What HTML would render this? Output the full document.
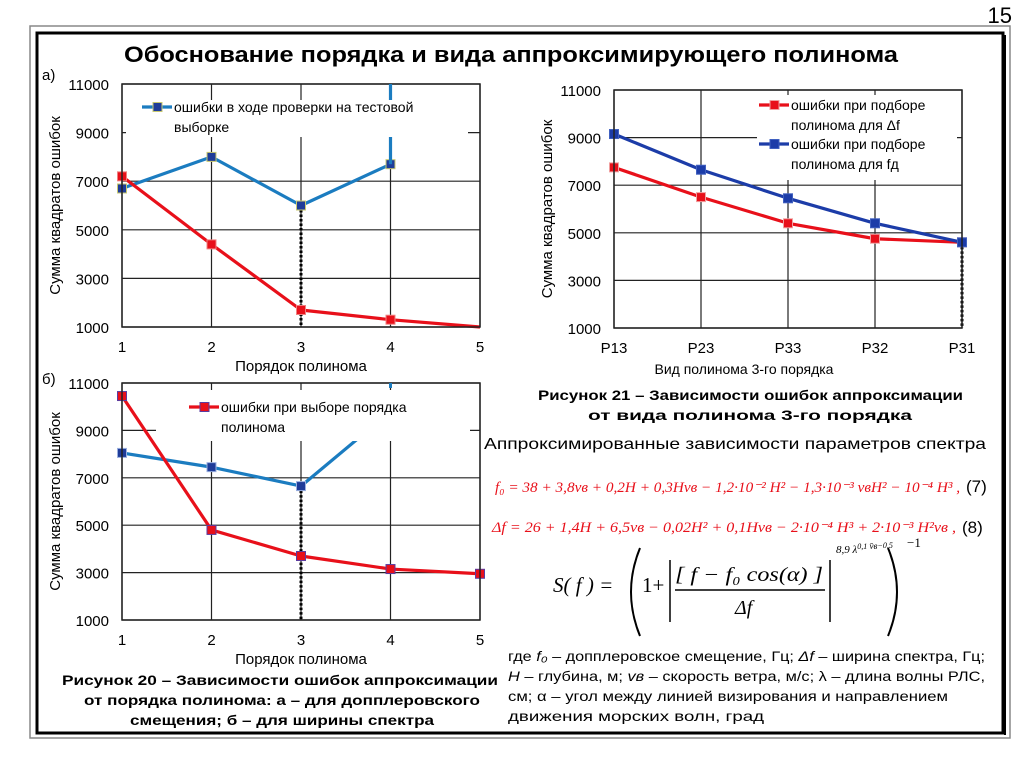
<!DOCTYPE html>
<html><head><meta charset="utf-8"><style>
html,body{margin:0;padding:0;background:#fff;}
svg{display:block;font-family:"Liberation Sans",sans-serif;}
.ser{font-family:"Liberation Serif",serif;}
</style></head><body>
<svg id="root" width="1024" height="767" viewBox="0 0 1024 767">
<rect x="30" y="26" width="980" height="712" fill="none" stroke="#888" stroke-width="1.5"/>
<rect x="37" y="33" width="966" height="700" fill="none" stroke="#000" stroke-width="3"/>
<line x1="1005" y1="35" x2="1005" y2="735" stroke="#000" stroke-width="2"/>
<text x="1012" y="23" font-size="22" text-anchor="end">15</text>
<text x="124" y="62" font-size="22" font-weight="bold" textLength="774" lengthAdjust="spacingAndGlyphs">Обоснование порядка и вида аппроксимирующего полинома</text>
<g id="charts"></g>

<text x="744" y="374" font-size="14" text-anchor="middle">Вид полинома 3-го порядка</text>
<text x="538" y="400" font-size="14" font-weight="bold" textLength="425" lengthAdjust="spacingAndGlyphs">Рисунок 21 – Зависимости ошибок аппроксимации</text>
<text x="588" y="420" font-size="14" font-weight="bold" textLength="324" lengthAdjust="spacingAndGlyphs">от вида полинома 3-го порядка</text>
<text x="484" y="449" font-size="16" textLength="502" lengthAdjust="spacingAndGlyphs">Аппроксимированные зависимости параметров спектра</text>

<text class="ser" x="495" y="492" font-size="15" font-style="italic" fill="#e8101a" textLength="465" lengthAdjust="spacingAndGlyphs">f₀ = 38 + 3,8vв + 0,2H + 0,3Hvв − 1,2·10⁻² H² − 1,3·10⁻³ vвH² − 10⁻⁴ H³ ,</text>
<text x="966" y="492" font-size="17">(7)</text>
<text class="ser" x="492" y="532" font-size="15" font-style="italic" fill="#e8101a" textLength="464" lengthAdjust="spacingAndGlyphs">Δf = 26 + 1,4H + 6,5vв − 0,02H² + 0,1Hvв − 2·10⁻⁴ H³ + 2·10⁻³ H²vв ,</text>
<text x="962" y="533" font-size="17">(8)</text>

<g class="ser">
<text class="ser" x="553" y="592" font-size="21" font-style="italic">S( f ) =</text>
<path d="M640,548 Q622,592 640,636" fill="none" stroke="#000" stroke-width="2"/>
<text class="ser" x="642" y="592" font-size="21">1+</text>
<line x1="670" y1="560" x2="670" y2="622" stroke="#000" stroke-width="1.5"/>
<text class="ser" x="675" y="581" font-size="20" font-style="italic" textLength="148" lengthAdjust="spacingAndGlyphs">[ f − f₀ cos(α) ]</text>
<line x1="675" y1="590" x2="825" y2="590" stroke="#000" stroke-width="1.5"/>
<text class="ser" x="735" y="614" font-size="20" font-style="italic">Δf</text>
<line x1="830" y1="560" x2="830" y2="622" stroke="#000" stroke-width="1.5"/>
<text class="ser" x="836" y="553" font-size="11" font-style="italic">8,9 λ<tspan font-size="8" dy="-4">0,1</tspan><tspan font-size="9" dy="0"> v̄в</tspan><tspan font-size="8" dy="-1">−0,5</tspan></text>
<path d="M888,548 Q906,592 888,636" fill="none" stroke="#000" stroke-width="2"/>
<text class="ser" x="907" y="547" font-size="13">−1</text>
</g>

<g font-size="14">
<text x="508" y="661" textLength="477" lengthAdjust="spacingAndGlyphs">где <tspan font-style="italic">f₀</tspan> – допплеровское смещение, Гц; <tspan font-style="italic">Δf</tspan> – ширина спектра, Гц;</text>
<text x="508" y="681" textLength="477" lengthAdjust="spacingAndGlyphs"><tspan font-style="italic">H</tspan> – глубина, м; <tspan font-style="italic">vв</tspan> – скорость ветра, м/с; λ – длина волны РЛС,</text>
<text x="508" y="701" textLength="440" lengthAdjust="spacingAndGlyphs">см; α – угол между линией визирования и направлением</text>
<text x="508" y="721" textLength="256" lengthAdjust="spacingAndGlyphs">движения морских волн, град</text>
</g>

<text x="62" y="685" font-size="14" font-weight="bold" textLength="436" lengthAdjust="spacingAndGlyphs">Рисунок 20 – Зависимости ошибок аппроксимации</text>
<text x="84" y="705" font-size="14" font-weight="bold" textLength="396" lengthAdjust="spacingAndGlyphs">от порядка полинома: а – для допплеровского</text>
<text x="130" y="725" font-size="14" font-weight="bold" textLength="304" lengthAdjust="spacingAndGlyphs">смещения; б – для ширины спектра</text>
<text x="42" y="80" font-size="15">а)</text>
<text x="42" y="384" font-size="15">б)</text>
</svg>
<script>
const yTicks = [1000, 3000, 5000, 7000, 9000, 11000];
const catsA = ['1', '2', '3', '4', '5'];
const catsC = ['P13', 'P23', 'P33', 'P32', 'P31'];
const redA = [7200, 4400, 1700, 1300, 1000];
const blueA = [6700, 8000, 6000, 7700];
const redB = [10450, 4800, 3700, 3150, 2950];
const blueB = [8050, 7450, 6650, 9800];
const redC = [7750, 6500, 5400, 4750, 4600];
const blueC = [9150, 7650, 6450, 5400, 4600];

const NS = 'http://www.w3.org/2000/svg';
const root = document.getElementById('charts');
function mk(tag, attrs, parent) {
  const e = document.createElementNS(NS, tag);
  for (const k in attrs) e.setAttribute(k, attrs[k]);
  (parent || root).appendChild(e);
  return e;
}
function chart(cfg) {
  const g = mk('g', {});
  
  
  const X = i => cfg.l + i * (cfg.r - cfg.l) / (cfg.cats.length - 1);
  const Y = v => cfg.b - (v - 1000) * (cfg.b - cfg.t) / 10000;
  const clipId = cfg.name + '-clip';
  const cp = mk('clipPath', {id: clipId}, g);
  mk('rect', {x: cfg.l - 6, y: cfg.t - 30, width: cfg.r - cfg.l + 12, height: cfg.b - cfg.t + 36}, cp);
  yTicks.forEach(v => {
    const ln = mk('line', {x1: cfg.l, x2: cfg.r, y1: Y(v), y2: Y(v), stroke: '#222', 'stroke-width': 1.2}, g);
    
    
    const t = mk('text', {x: cfg.l - 13, y: Y(v) + 6, 'font-size': 15, 'text-anchor': 'end'}, g);
    t.textContent = v;
    
    
  });
  cfg.cats.forEach((c, i) => {
    const ln = mk('line', {x1: X(i), x2: X(i), y1: cfg.t, y2: cfg.b, stroke: '#222', 'stroke-width': 1.2}, g);
    
    
    const t = mk('text', {x: X(i), y: cfg.b + 25, 'font-size': 15, 'text-anchor': 'middle'}, g);
    t.textContent = c;
    
    
  });
  const yt = mk('text', {x: 0, y: 0, 'font-size': 15, 'text-anchor': 'middle', transform: `translate(${cfg.l - 62},${(cfg.t + cfg.b) / 2}) rotate(-90)`}, g);
  yt.textContent = 'Сумма квадратов ошибок';
  
  
  if (cfg.xtitle) {
    const xt = mk('text', {x: (cfg.l + cfg.r) / 2, y: cfg.b + 44, 'font-size': 15, 'text-anchor': 'middle'}, g);
    xt.textContent = cfg.xtitle;
    
    
  }
  if (cfg.dashIdx !== undefined) {
    const dl = mk('line', {x1: X(cfg.dashIdx), x2: X(cfg.dashIdx), y1: Y(cfg.dashVal), y2: cfg.b, stroke: '#000', 'stroke-width': 3, 'stroke-dasharray': '2.5,2'}, g);
    
    
  }
  const sg = mk('g', {'clip-path': `url(#${clipId})`}, g);
  cfg.series.forEach(s => {
    const pts = s.vals.map((v, i) => X(i) + ',' + Y(v)).join(' ');
    const pl = mk('polyline', {points: pts, fill: 'none', stroke: s.color, 'stroke-width': 3.2, 'stroke-linejoin': 'round'}, sg);
    
    
    s.vals.forEach((v, i) => {
      if (s.skipLast && i === s.vals.length - 1) return;
      const m = mk('rect', {x: X(i) - 4.5, y: Y(v) - 4.5, width: 9, height: 9, fill: s.mfill, stroke: s.mstroke, 'stroke-width': 1}, sg);
      
      
    });
  });
  const bx = mk('rect', Object.assign({fill: '#fff'}, cfg.legendBox), g);
  
  
  mk('rect', {x: cfg.l, y: cfg.t, width: cfg.r - cfg.l, height: cfg.b - cfg.t, fill: 'none', stroke: '#222', 'stroke-width': 1.5}, g);
  cfg.legend.forEach(L => {
    const lg = mk('g', {}, g);
    
    
    mk('line', {x1: L.x, x2: L.x + 30, y1: L.y - 5, y2: L.y - 5, stroke: L.color, 'stroke-width': 3.2}, lg);
    mk('rect', {x: L.x + 11, y: L.y - 9.5, width: 9, height: 9, fill: L.mfill, stroke: L.mstroke}, lg);
    L.lines.forEach((tx, k) => {
      const t = mk('text', {x: L.x + 32, y: L.y + k * 20, 'font-size': 14}, lg);
      t.textContent = tx;
    });
  });
  return {X, Y, g};
}
const a = chart({name: 'chart-a', l: 122, r: 480, t: 84, b: 327, cats: catsA, xtitle: 'Порядок полинома', dashIdx: 2, dashVal: blueA[2],
  series: [
    {name: 'blue-a', vals: blueA, color: '#1b7cc0', mfill: '#1f3c99', mstroke: '#c8c870'},
    {name: 'red-a', vals: redA, color: '#e8101a', mfill: '#e8101a', mstroke: '#f08080', skipLast: true}
  ],
  legendBox: {x: 126, y: 100, width: 342, height: 37},
  legend: [{x: 142, y: 112, color: '#1b7cc0', mfill: '#1f3c99', mstroke: '#c8c870', lines: ['ошибки в ходе проверки на тестовой', 'выборке']}]
});
mk('line', {x1: a.X(3), x2: a.X(3), y1: 84, y2: 100, stroke: '#1b7cc0', 'stroke-width': 3.2});
mk('line', {x1: a.X(3), x2: a.X(3), y1: 137, y2: a.Y(blueA[3]), stroke: '#1b7cc0', 'stroke-width': 3.2});
const b = chart({name: 'chart-b', l: 122, r: 480, t: 383, b: 620, cats: catsA, xtitle: 'Порядок полинома', dashIdx: 2, dashVal: blueB[2],
  series: [
    {name: 'blue-b', vals: blueB, color: '#1b7cc0', mfill: '#1f3c99', mstroke: '#9ab0e0', skipLast: true},
    {name: 'red-b', vals: redB, color: '#e8101a', mfill: '#e8101a', mstroke: '#5a3ca0'}
  ],
  legendBox: {x: 156, y: 390, width: 314, height: 51},
  legend: [{x: 189, y: 412, color: '#e8101a', mfill: '#e8101a', mstroke: '#5a3ca0', lines: ['ошибки при выборе порядка', 'полинома']}]
});
mk('line', {x1: b.X(3), x2: b.X(3), y1: 383, y2: 388, stroke: '#1b7cc0', 'stroke-width': 3});
chart({name: 'chart-c', l: 614, r: 962, t: 90, b: 328, cats: catsC, dashIdx: 4, dashVal: blueC[4],
  series: [
    {name: 'red-c', vals: redC, color: '#e8101a', mfill: '#e8101a', mstroke: '#f0a0a0'},
    {name: 'blue-c', vals: blueC, color: '#1c3ca8', mfill: '#1c3ca8', mstroke: '#4060c0'}
  ],
  legendBox: {x: 757, y: 95, width: 200, height: 85},
  legend: [
    {x: 759, y: 110, color: '#e8101a', mfill: '#e8101a', mstroke: '#f0a0a0', lines: ['ошибки при подборе', 'полинома для Δf']},
    {x: 759, y: 149, color: '#1c3ca8', mfill: '#1c3ca8', mstroke: '#4060c0', lines: ['ошибки при подборе', 'полинома для fд']}
  ]
});
</script>
</body></html>
